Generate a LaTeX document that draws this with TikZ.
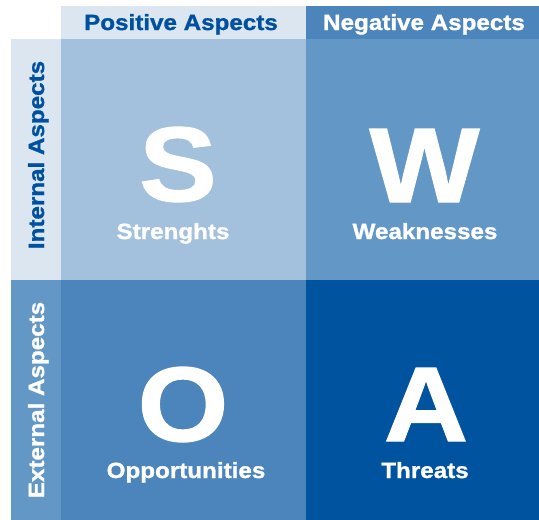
\documentclass[tikz,border=0pt]{standalone}
\usepackage{fontspec}
\newfontfamily\swotfont{LiberationSans-Bold.ttf}[FakeStretch=1.1,FakeBold=1.2]
\definecolor{hdrlight}{HTML}{DCE6F1}
\definecolor{cellS}{HTML}{A3C1DD}
\definecolor{cellW}{HTML}{6398C6}
\definecolor{cellO}{HTML}{4B85BB}
\definecolor{cellA}{HTML}{00539F}
\definecolor{txtdark}{HTML}{0050A0}
\begin{document}
\begin{tikzpicture}[x=1pt,y=-1pt,
  hdr/.style={font=\swotfont\fontsize{22}{26}\selectfont, anchor=base, inner sep=0pt},
  big/.style={font=\swotfont\fontsize{106}{110}\selectfont, text=white, anchor=base, inner sep=0pt, text depth=0pt},
  lbl/.style={font=\swotfont\fontsize{22}{26}\selectfont, text=white, anchor=base, inner sep=0pt}]
\useasboundingbox (0,0) rectangle (539,520);
% header row
\fill[hdrlight] (61,6) rectangle (306,39);
\fill[cellO] (306,6) rectangle (539,39);
% side column
\fill[hdrlight] (11,39) rectangle (61,280);
\fill[cellW] (11,280) rectangle (61,520);
% quadrants
\fill[cellS] (61,39) rectangle (306,280);
\fill[cellW] (306,39) rectangle (539,280);
\fill[cellO] (61,280) rectangle (306,520);
\fill[cellA] (306,280) rectangle (539,520);
% header texts
\node[hdr, text=txtdark] (pos) at (181,30) {Positive Aspects};
\node[hdr, text=white] (neg) at (424,30) {Negative Aspects};
\node[hdr, text=txtdark, rotate=90] (int) at (44,155) {Internal Aspects};
\node[hdr, text=white, rotate=90] (ext) at (44,400) {External Aspects};
% quadrant letters
\node[big] (S) at (178,201) {S};
\node[big] (W) at (424.5,202) {W};
\node[big] (O) at (183,441) {O};
\node[big] (A) at (426,441) {A};
% labels
\node[lbl] (Sl) at (173,239) {Strenghts};
\node[lbl] (Wl) at (425,239) {Weaknesses};
\node[lbl] (Ol) at (186,478) {Opportunities};
\node[lbl] (Al) at (425,478) {Threats};
\end{tikzpicture}
\end{document}
